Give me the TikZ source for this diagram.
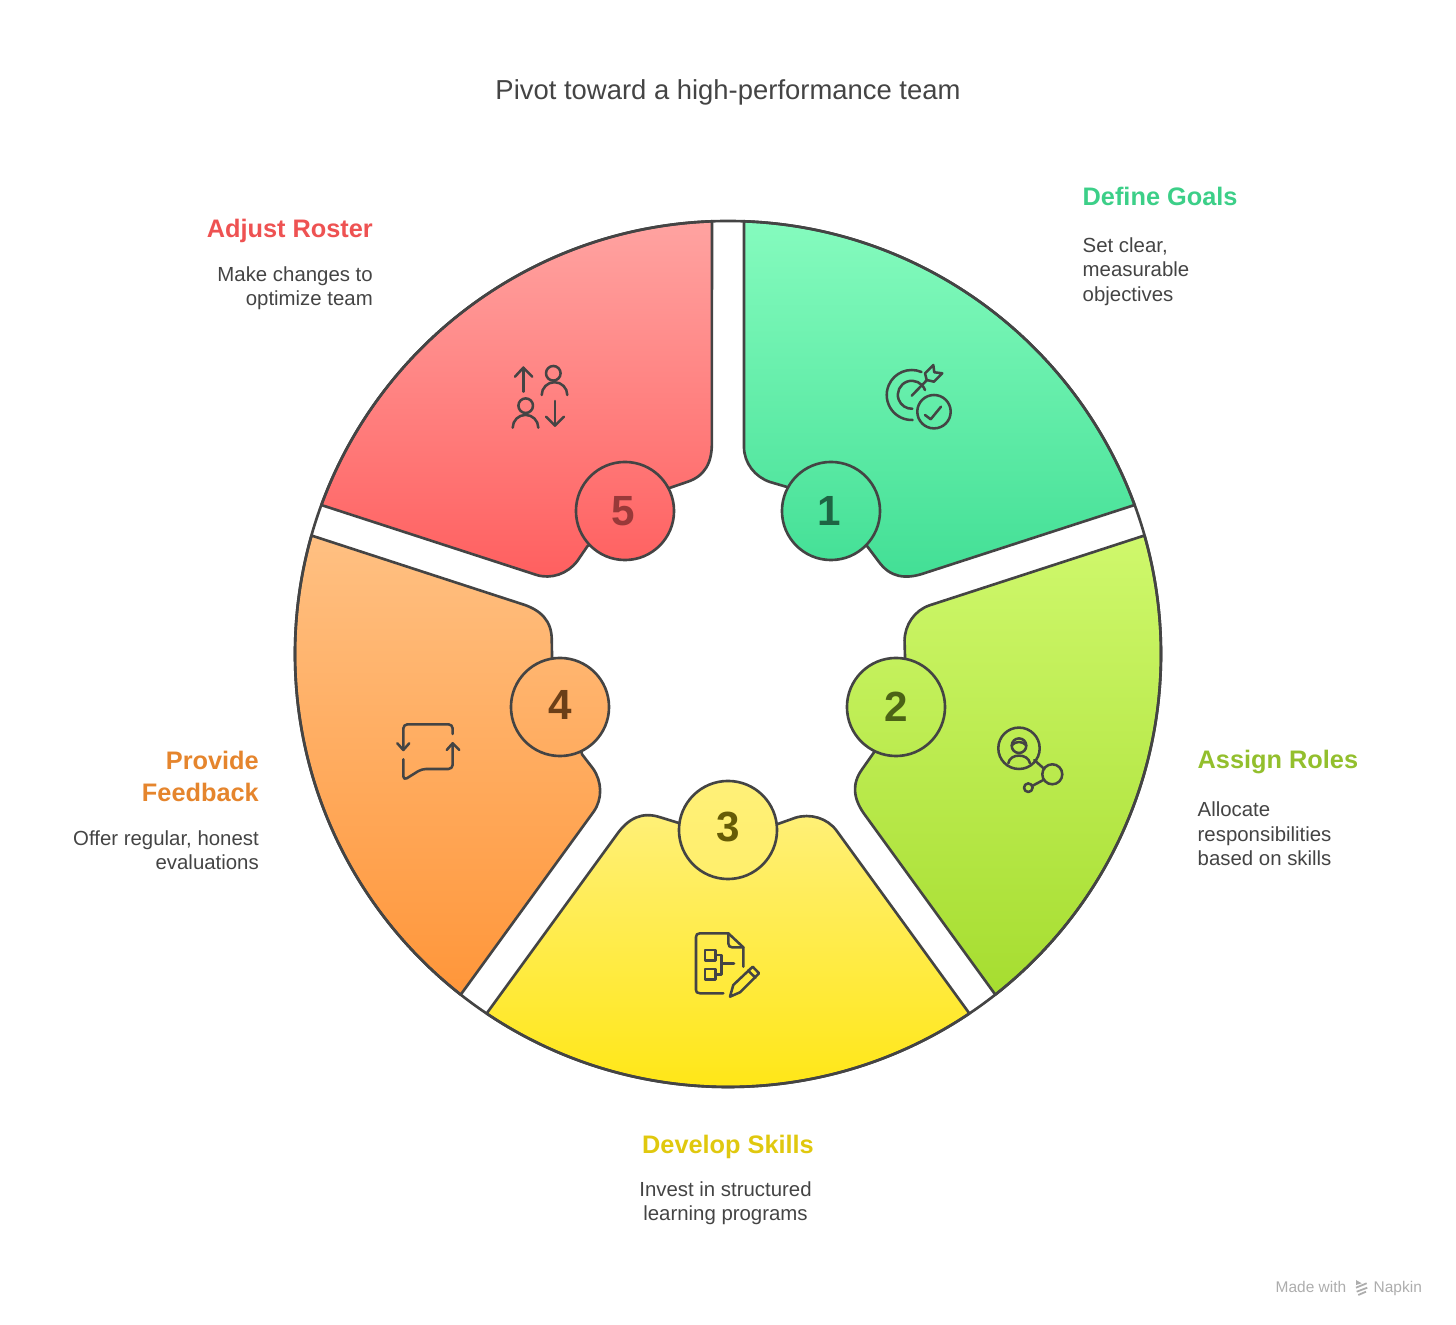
\documentclass[tikz,border=0pt]{standalone}
\usepackage{fontspec}
\setmainfont{Liberation Sans}
\usepackage{tikz}

\definecolor{inkline}{HTML}{444444}
\definecolor{goalstop}{HTML}{85FBBE}
\definecolor{goalsbot}{HTML}{42DF95}
\definecolor{rolestop}{HTML}{CFF86C}
\definecolor{rolesbot}{HTML}{A6DD30}
\definecolor{skillstop}{HTML}{FFF078}
\definecolor{skillsbot}{HTML}{FFE60F}
\definecolor{feedbacktop}{HTML}{FFC082}
\definecolor{feedbackbot}{HTML}{FF963A}
\definecolor{rostertop}{HTML}{FFA3A1}
\definecolor{rosterbot}{HTML}{FF5F5F}
\definecolor{goalshead}{HTML}{3CCF88}
\definecolor{roleshead}{HTML}{93BF2D}
\definecolor{skillshead}{HTML}{E0C80E}
\definecolor{feedbackhead}{HTML}{E5852D}
\definecolor{rosterhead}{HTML}{EE5252}

\begin{document}
\begin{tikzpicture}[
    x=0.01cm, y=-0.01cm,
    petal/.style={draw=inkline, line width=0.75pt, line join=round},
    numdisc/.style={circle, draw=inkline, line width=0.75pt, minimum size=0.98cm, inner sep=0pt,
        font=\fontsize{12}{12}\selectfont\bfseries},
    icon/.style={draw=inkline, line width=0.72pt, line cap=round, line join=round},
    headline/.style={inner sep=0pt, font=\fontsize{7.2}{9.1}\selectfont\bfseries},
    bodytext/.style={inner sep=0pt, text=inkline, font=\fontsize{5.8}{6.95}\selectfont}
]
    \useasboundingbox (0, 0) rectangle (1456, 1325);

    % Title
    \node[inner sep=0pt, text=inkline, font=\fontsize{7.8}{9}\selectfont] (title) at (728, 92) {Pivot toward a high-performance team};

    % Segment 1
    \path[petal, top color=goalstop, bottom color=goalsbot]
        (744, 221.3) arc[start angle=-87.88, end angle=-20.12, radius=433] -- (925, 573)
        .. controls (905, 580) and (890, 577) .. (879, 562) -- (867, 546) -- (787, 487) -- (770, 482)
        .. controls (755, 477) and (744, 463) .. (744, 447) -- cycle;

    % Segment 2
    \path[petal, rotate around={-72:(728, 654)}, top color=rolestop, bottom color=rolesbot]
        (744, 221.3) arc[start angle=-87.88, end angle=-20.12, radius=433] -- (925, 573)
        .. controls (905, 580) and (890, 577) .. (879, 562) -- (867, 546) -- (787, 487) -- (770, 482)
        .. controls (755, 477) and (744, 463) .. (744, 447) -- cycle;

    % Segment 3
    \path[petal, rotate around={-144:(728, 654)}, top color=skillstop, bottom color=skillsbot]
        (744, 221.3) arc[start angle=-87.88, end angle=-20.12, radius=433] -- (925, 573)
        .. controls (905, 580) and (890, 577) .. (879, 562) -- (867, 546) -- (787, 487) -- (770, 482)
        .. controls (755, 477) and (744, 463) .. (744, 447) -- cycle;

    % Segment 4
    \path[petal, rotate around={-216:(728, 654)}, top color=feedbacktop, bottom color=feedbackbot]
        (744, 221.3) arc[start angle=-87.88, end angle=-20.12, radius=433] -- (925, 573)
        .. controls (905, 580) and (890, 577) .. (879, 562) -- (867, 546) -- (787, 487) -- (770, 482)
        .. controls (755, 477) and (744, 463) .. (744, 447) -- cycle;

    % Segment 5
    \path[petal, rotate around={-288:(728, 654)}, top color=rostertop, bottom color=rosterbot]
        (744, 221.3) arc[start angle=-87.88, end angle=-20.12, radius=433] -- (925, 573)
        .. controls (905, 580) and (890, 577) .. (879, 562) -- (867, 546) -- (787, 487) -- (770, 482)
        .. controls (755, 477) and (744, 463) .. (744, 447) -- cycle;

    % Outer ring across the gaps
    \draw[petal] (728, 654) circle[radius=433];

    % Number discs
    \node[numdisc, text=goalsbot!45!black, top color=goalsbot!67!goalstop, bottom color=goalsbot!95!goalstop] (n1) at (831, 511) {\hspace{-1pt}1};
    \node[numdisc, text=rolesbot!45!black, top color=rolesbot!26!rolestop, bottom color=rolesbot!48!rolestop] (n2) at (896, 707) {\raisebox{0.3pt}{2}};
    \node[numdisc, text=skillsbot!40!black, top color=skillstop, bottom color=skillsbot!12!skillstop] (n3) at (728, 830) {\raisebox{1.6pt}{3}};
    \node[numdisc, text=feedbackbot!42!black, top color=feedbackbot!26!feedbacktop, bottom color=feedbackbot!48!feedbacktop] (n4) at (560, 707) {\raisebox{1.3pt}{4}};
    \node[numdisc, text=rosterbot!60!black, top color=rosterbot!67!rostertop, bottom color=rosterbot!95!rostertop] (n5) at (625, 511) {\hspace{-1pt}5};

    % Icon 1: target
    \draw[icon] (921.5, 372) arc[start angle=-67, end angle=-272, radius=25];
    \draw[icon] (925, 390) arc[start angle=-20, end angle=-272, radius=14];
    \draw[icon] (911.7, 395.7) -- (927, 380);
    \draw[icon] (925, 373.3) -- (933.3, 365) -- (934.3, 372.3) -- (942.3, 373.3) -- (934, 381.7) -- (926.7, 380) -- cycle;
    \draw[icon] (934, 411.7) circle[radius=16.7];
    \draw[icon] (925, 415) -- (930.7, 419.3) -- (941, 406.7);

    % Icon 2: person link
    \draw[icon] (1019, 748.3) circle[radius=20.7];
    \draw[icon] (1019, 745.7) circle[radius=7.3];
    \draw[icon] (1012, 745) .. controls (1016, 741) and (1022, 741) .. (1026, 745);
    \draw[icon] (1008.3, 763.3) .. controls (1010, 753) and (1028, 753) .. (1030, 763.3);
    \draw[icon] (1034.3, 760) -- (1044.3, 769);
    \draw[icon] (1052.3, 774.3) circle[radius=10];
    \draw[icon] (1043.3, 780) -- (1032.7, 785.7);
    \draw[icon] (1028.3, 787.7) circle[radius=4.3];

    % Icon 3: document and pencil
    \draw[icon] (743.3, 966.7) -- (743.3, 947.3) -- (728.3, 933.3) -- (700, 933.3)
        .. controls (697, 933.3) and (696, 935) .. (696, 937) -- (696, 990)
        .. controls (696, 992) and (697, 993.3) .. (700, 993.3) -- (723.3, 993.3);
    \draw[icon] (728.3, 933.3) -- (728.3, 943.3) .. controls (728.3, 946) and (730, 947.3) .. (732, 947.3) -- (743.3, 947.3);
    \draw[icon] (705, 950) rectangle (715.7, 960.7);
    \draw[icon] (705, 969) rectangle (715.7, 979.3);
    \draw[icon] (715.7, 955) -- (721.7, 955) -- (721.7, 974.3) -- (715.7, 974.3);
    \draw[icon] (721.7, 963.7) -- (734, 963.7);
    \draw[icon] (730, 996.7) -- (733.3, 985) -- (752.7, 966.7) -- (759, 973.3) -- (740, 992.3) -- cycle;
    \draw[icon] (748, 970.5) -- (755.5, 977.7);

    % Icon 4: speech bubble with arrows
    \draw[icon, rounded corners=1.2pt] (452.7, 734) -- (452.7, 724.3) -- (403.3, 724.3) -- (403.3, 749.3);
    \draw[icon] (397.3, 743.3) -- (403.3, 750) -- (409.3, 743.3);
    \draw[icon, rounded corners=1.2pt] (403.3, 759.3) -- (403.3, 780.5) -- (421.7, 769) -- (452.7, 769) -- (452.7, 743.3);
    \draw[icon] (446.7, 750) -- (452.7, 743.3) -- (459.3, 750);

    % Icon 5: swapped people
    \draw[icon] (523.3, 391.7) -- (523.3, 367.7);
    \draw[icon] (515, 376.7) -- (523.3, 367.7) -- (532.3, 376.7);
    \draw[icon] (553.3, 373.3) circle[radius=7.3];
    \draw[icon] (541.7, 395) arc[start angle=180, end angle=360, radius=12.8];
    \draw[icon] (525.7, 405.7) circle[radius=7.3];
    \draw[icon] (512.7, 427.7) arc[start angle=180, end angle=360, radius=12.8];
    \draw[icon] (555, 401) -- (555, 425.7);
    \draw[icon] (546, 416.7) -- (555, 425.7) -- (564, 416.7);

    % Labels: goals
    \node[headline, text=goalshead, anchor=west] (goalshd) at (1082, 196) {Define Goals};
    \node[bodytext, anchor=west, align=left] (goalstxt) at (1082, 271.5) {Set clear,\\measurable\\objectives};

    % Labels: roles
    \node[headline, text=roleshead, anchor=west] (roleshd) at (1197, 762.5) {Assign Roles};
    \node[bodytext, anchor=west, align=left] (rolestxt) at (1197, 834) {Allocate\\responsibilities\\based on skills};

    % Labels: skills
    \node[headline, text=skillshead] (skillshd) at (728, 1146.5) {Develop Skills};
    \node[bodytext, align=center] (skillstxt) at (725.5, 1203.5) {Invest in structured\\learning programs};

    % Labels: feedback
    \node[headline, text=feedbackhead, anchor=east, align=right] (feedbackhd) at (259.5, 776.5) {Provide\\Feedback};
    \node[bodytext, anchor=east, align=right] (feedbacktxt) at (259.5, 850) {Offer regular, honest\\evaluations};

    % Labels: roster
    \node[headline, text=rosterhead, anchor=east] (rosterhd) at (373.5, 231) {Adjust Roster};
    \node[bodytext, anchor=east, align=right] (rostertxt) at (373.5, 288) {Make changes to\\optimize team};

    % Watermark
    \node[inner sep=0pt, anchor=base west, text=black!32, font=\fontsize{4.4}{5}\selectfont] (madewith) at (1275, 1293) {Made with};
    \node[inner sep=0pt, anchor=base west, text=black!32, font=\fontsize{4.4}{5}\selectfont] (napkin) at (1373, 1293) {Napkin};
    \fill[black!32] (1356, 1280) -- (1361.7, 1283.3) -- (1356, 1285) -- cycle;
    \draw[black!32, line width=0.5pt] (1356, 1287.7) -- (1366.7, 1283.3);
    \draw[black!32, line width=0.5pt] (1356.7, 1291.7) -- (1367.3, 1287.7);
    \draw[black!32, line width=0.5pt] (1358.3, 1295) -- (1366, 1291.7);
\end{tikzpicture}
\end{document}
